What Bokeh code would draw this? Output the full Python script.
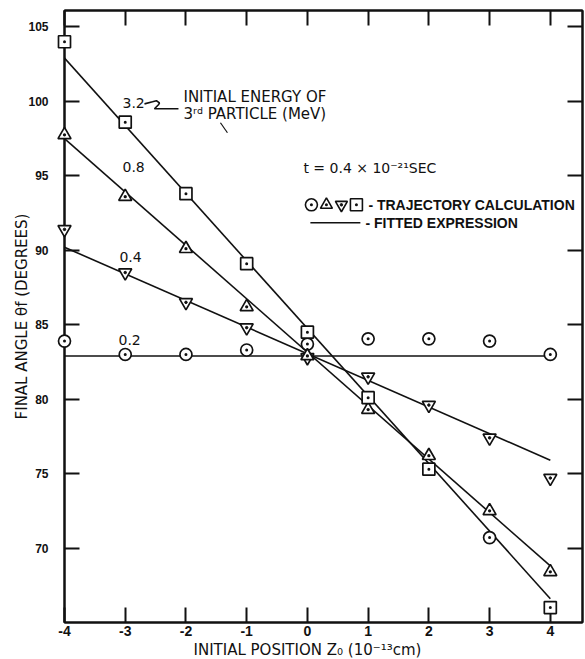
from bokeh.plotting import figure
from bokeh.models import LinearAxis, FixedTicker, Range1d, Label, ColumnDataSource, Title
from bokeh.embed import file_html
from bokeh.resources import INLINE

# ---------------- data ----------------
z0 = [-4, -3, -2, -1, 0, 1, 2, 3, 4]
theta_02 = [83.9, 83.0, 83.0, 83.3, 83.7, 84.05, 84.05, 83.9, 83.0]
theta_04 = [91.4, 88.5, 86.5, 84.8, 82.8, 81.5, 79.6, 77.4, 74.7]
theta_08 = [97.75, 93.6, 90.1, 86.2, 82.9, 79.3, 76.2, 72.5, 68.4]
theta_32 = [104.0, 98.6, 93.8, 89.1, 84.5, 80.1, 75.3, 70.7, 66.0]
markers_32 = ["square_dot"] * 7 + ["circle_dot", "square_dot"]

fit_x = [-4, 4]
fit_02 = [82.9, 82.9]
fit_04 = [90.2, 75.9]
fit_08 = [97.5, 68.8]
fit_32 = [102.9, 66.6]

energy_labels = ["3.2", "0.8", "0.4", "0.2"]
energy_label_x = [-3.045, -3.045, -3.095, -3.111]
energy_label_y = [99.9, 95.6, 89.56, 83.99]

x_ticks = [-4, -3, -2, -1, 0, 1, 2, 3, 4]
x_tick_labels = ["-4", "-3", "-2", "-1", "0", "1", "2", "3", "4"]
y_ticks = [70, 75, 80, 85, 90, 95, 100, 105]
y_tick_labels = ["70", "75", "80", "85", "90", "95", "100", "105"]

FONT = "DejaVu Sans"
TICK_FONT = "Liberation Sans"
LEG_FONT = "Liberation Sans"
INK = "#111111"

p = figure(width=585, height=659,
           x_range=Range1d(-4, 4.53), y_range=Range1d(65, 106.1),
           output_backend="svg", toolbar_location=None,
           min_border_left=64, min_border_right=3, min_border_top=10,
           min_border_bottom=37)
p.xgrid.visible = False
p.ygrid.visible = False
p.outline_line_color = INK
p.outline_line_width = 2
p.background_fill_color = "white"
p.border_fill_color = "white"


def style_axis(ax, ticks, labels, show_labels=True):
    ax.ticker = FixedTicker(ticks=ticks)
    if show_labels:
        ax.major_label_overrides = {t: l for t, l in zip(ticks, labels)}
    else:
        ax.major_label_overrides = {t: "" for t in ticks}
        ax.major_label_text_font_size = "1px"
        ax.major_label_standoff = 0
    ax.major_tick_in = 15
    ax.major_tick_out = 0
    ax.minor_tick_line_color = None
    ax.axis_line_width = 2
    ax.axis_line_color = INK
    ax.major_tick_line_width = 2
    ax.major_tick_line_color = INK
    ax.major_label_text_font = TICK_FONT
    ax.major_label_text_color = INK
    ax.major_label_text_font_style = "bold"


style_axis(p.xaxis[0], x_ticks, x_tick_labels)
p.xaxis.major_label_text_font_size = "14px"
p.xaxis.major_label_standoff = 3
style_axis(p.yaxis[0], y_ticks, y_tick_labels)
p.yaxis.major_label_text_font_size = "12px"
p.yaxis.major_label_standoff = 16
p.yaxis.axis_label = "FINAL ANGLE \u03b8f (DEGREES)"
p.yaxis.axis_label_text_font = FONT
p.yaxis.axis_label_text_font_size = "15px"
p.yaxis.axis_label_text_font_style = "normal"
p.yaxis.axis_label_text_color = INK
p.yaxis.axis_label_standoff = -6

top = LinearAxis()
style_axis(top, x_ticks, x_tick_labels, show_labels=False)
p.add_layout(top, "above")
right = LinearAxis()
style_axis(right, y_ticks, y_tick_labels, show_labels=False)
p.add_layout(right, "right")

p.add_layout(Title(text="INITIAL POSITION Z\u2080 (10\u207b\u00b9\u00b3cm)", align="left",
                   offset=129, standoff=0, text_font=FONT, text_font_size="15px",
                   text_font_style="normal", text_color=INK), "below")

# ---------------- fitted lines ----------------
for fy in (fit_02, fit_04, fit_08, fit_32):
    p.line(fit_x, fy, line_color=INK, line_width=1.6)

# ---------------- trajectory points ----------------
MW = 1.7
lvl = "overlay"
p.scatter(z0, theta_02, marker="circle_dot", size=12, fill_color="white",
          line_color=INK, line_width=MW, level=lvl)
p.scatter(z0, theta_04, marker="inverted_triangle", size=13, fill_color="white",
          line_color=INK, line_width=MW, level=lvl)
p.scatter(z0, theta_04, marker="circle", size=2.5, fill_color=INK,
          line_color=INK, level=lvl)
p.scatter(z0, theta_08, marker="triangle_dot", size=13, fill_color="white",
          line_color=INK, line_width=MW, level=lvl)
src32 = ColumnDataSource(dict(x=z0, y=theta_32, m=markers_32))
p.scatter(x="x", y="y", marker="m", source=src32, size=12, fill_color="white",
          line_color=INK, line_width=MW, level=lvl)

# ---------------- energy labels ----------------
for t, lx, ly in zip(energy_labels, energy_label_x, energy_label_y):
    p.add_layout(Label(x=lx, y=ly, text=t, text_font=FONT, text_font_size="14px",
                       text_color=INK, text_align="left", text_baseline="middle"))

# ---------------- annotation: initial energy ----------------
squig_x = [-2.683, -2.551, -2.486, -2.436, -2.453, -2.519, -2.123]
squig_y = [99.83, 99.97, 100.04, 99.90, 99.77, 99.50, 99.50]
p.line(squig_x, squig_y, line_color=INK, line_width=1.6)
p.line([-1.432, -1.317], [98.56, 97.89], line_color=INK, line_width=1.2)
p.add_layout(Label(x=-2.041, y=100.3, text="INITIAL ENERGY OF", text_font=FONT,
                   text_font_size="15px", text_color=INK, text_baseline="middle"))
p.add_layout(Label(x=-2.041, y=99.16, text="3\u02b3\u1d48 PARTICLE (MeV)", text_font=FONT,
                   text_font_size="15px", text_color=INK, text_baseline="middle"))

# ---------------- time note ----------------
p.add_layout(Label(x=-0.066, y=95.54, text="t = 0.4 \u00d7 10\u207b\u00b2\u00b9SEC",
                   text_font=FONT, text_font_size="14px", text_color=INK,
                   text_baseline="middle"))

# ---------------- legend ----------------
leg_x = [0.066, 0.313, 0.560, 0.807]
leg_y = [93.05] * 4
leg_m = ["circle_dot", "triangle_dot", "inverted_triangle", "square_dot"]
p.scatter(leg_x, leg_y, marker=leg_m, size=12, fill_color="white",
          line_color=INK, line_width=1.6)
p.scatter([leg_x[2]], [leg_y[2]], marker="circle", size=2.5, fill_color=INK, line_color=INK)
p.add_layout(Label(x=1.004, y=93.05, text="- TRAJECTORY CALCULATION",
                   text_font=LEG_FONT, text_font_style="bold", text_font_size="14px",
                   text_color=INK, text_baseline="middle"))
p.line([0.049, 0.872], [91.85, 91.85], line_color=INK, line_width=1.6)
p.add_layout(Label(x=0.955, y=91.85, text="- FITTED EXPRESSION",
                   text_font=LEG_FONT, text_font_style="bold", text_font_size="14px",
                   text_color=INK, text_baseline="middle"))

open("out.html", "w").write(file_html(p, INLINE))
